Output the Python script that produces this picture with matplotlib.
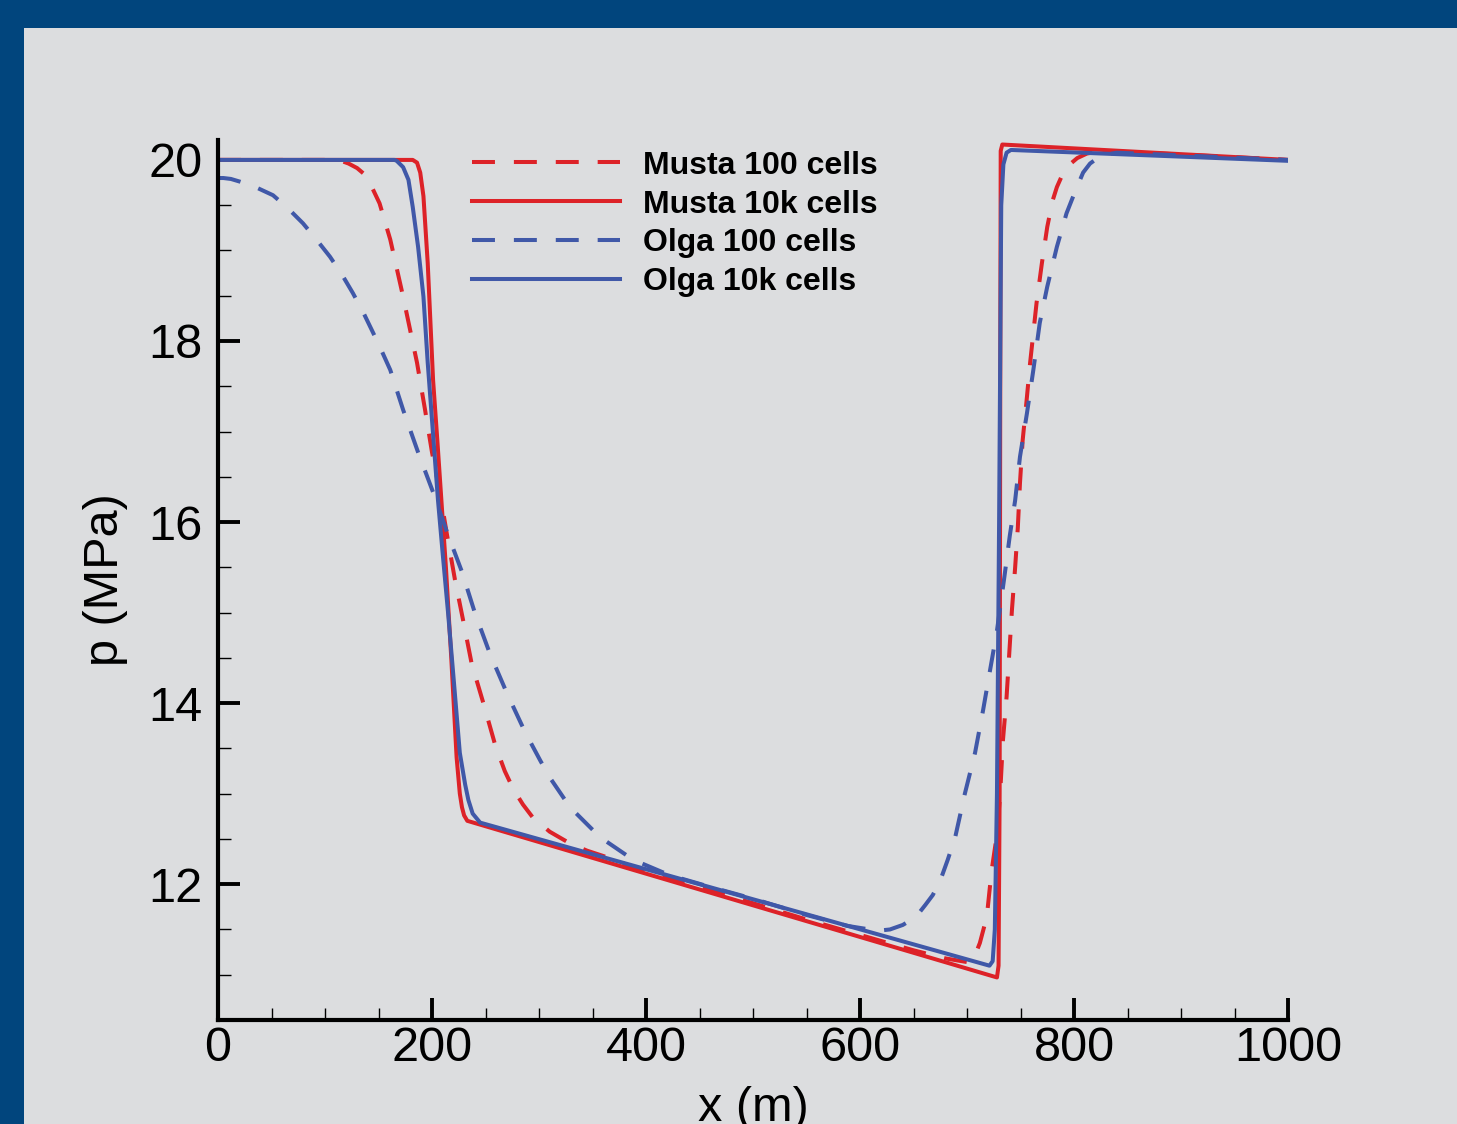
import matplotlib
matplotlib.use("Agg")
import matplotlib.pyplot as plt
from matplotlib.patches import Rectangle
from matplotlib.ticker import MultipleLocator

plt.rcParams['font.family'] = ['Liberation Sans', 'DejaVu Sans']

# ---------------- data ----------------
musta100_x = [0, 100, 115, 122, 130, 136, 143, 151, 161, 173, 186, 193.5, 200, 207.5, 214, 221.5,
              229, 237, 248, 259, 268, 276, 285, 294, 310, 329, 345, 363, 390, 420, 450, 500,
              550, 600, 650, 680, 700, 706, 712, 718.5, 723, 728, 731, 733.6, 737, 742, 745,
              747.5, 749.5, 752, 756, 759, 765, 770, 775, 780, 784, 790, 797, 803, 812, 825,
              900, 1000]
musta100_y = [20, 20, 19.99, 19.96, 19.91, 19.85, 19.72, 19.52, 19.12, 18.49, 17.76, 17.24, 16.77,
              16.32, 15.86, 15.36, 14.92, 14.44, 14.0, 13.54, 13.25, 13.05, 12.88, 12.74, 12.58,
              12.45, 12.37, 12.30, 12.18, 12.07, 11.97, 11.79, 11.61, 11.44, 11.27, 11.18, 11.14,
              11.17, 11.35, 11.64, 12.15, 12.55, 13.0, 13.59, 14.07, 15.03, 15.5, 15.94, 16.43,
              16.9, 17.38, 17.76, 18.42, 18.86, 19.26, 19.55, 19.70, 19.86, 19.96, 20.02, 20.07,
              20.10, 20.06, 20.0]

musta10k_x = [0, 175, 182, 186, 189, 192, 196, 201, 205, 209, 213, 218, 223, 226, 228, 230, 233,
              728, 729.5, 730.5, 731, 731.5, 733, 1000]
musta10k_y = [20, 20, 20.0, 19.97, 19.86, 19.6, 18.86, 17.57, 16.9, 16.2, 15.5, 14.5, 13.4, 13.0,
              12.85, 12.76, 12.70, 10.97, 11.1, 13.0, 17.0, 20.1, 20.17, 20.0]

olga100_x = [0, 5, 12, 20.5, 35, 51.4, 65, 79.4, 92, 104.7, 116, 126, 136, 145, 153, 161, 173, 187,
             201, 214, 228, 240, 254, 270, 287, 301, 310, 329, 357, 388, 422, 460, 500, 550, 588,
             609, 620, 628, 640, 647, 655, 661, 668, 675, 682, 689, 698, 707.5, 715, 721.5, 728,
             735, 740, 745, 749.5, 756, 762, 768, 775, 784, 793, 800, 808.5, 815, 822, 830, 840,
             900, 1000]
olga100_y = [19.8, 19.8, 19.79, 19.76, 19.70, 19.61, 19.47, 19.30, 19.12, 18.93, 18.73, 18.53, 18.31,
             18.09, 17.89, 17.68, 17.24, 16.77, 16.33, 15.89, 15.45, 15.0, 14.55, 14.11, 13.68,
             13.37, 13.18, 12.85, 12.52, 12.27, 12.10, 11.97, 11.84, 11.66, 11.54, 11.50, 11.49,
             11.50, 11.55, 11.60, 11.68, 11.77, 11.88, 12.04, 12.27, 12.52, 13.0, 13.45, 13.92,
             14.36, 14.8, 15.4, 15.85, 16.24, 16.72, 17.2, 17.68, 18.2, 18.6, 19.04, 19.41, 19.62,
             19.86, 19.96, 20.02, 20.06, 20.08, 20.05, 20.0]

olga10k_x = [0, 165, 167, 173, 178, 182, 187, 192, 196, 205.6, 210, 215, 220, 226, 231, 234, 238,
             245, 715, 721, 724, 726, 728, 730, 732, 734, 737, 741, 1000]
olga10k_y = [20, 20, 19.99, 19.92, 19.78, 19.48, 19.04, 18.49, 17.76, 16.24, 15.65, 15.0, 14.3,
             13.45, 13.1, 12.93, 12.78, 12.68, 11.12, 11.10, 11.15, 11.5, 13.0, 16.0, 19.5, 19.95,
             20.08, 20.11, 19.99]

series_labels = ["Musta 100 cells", "Musta 10k cells", "Olga 100 cells", "Olga 10k cells"]
x_ticks = [0, 200, 400, 600, 800, 1000]
y_ticks = [12, 14, 16, 18, 20]

# ---------------- figure ----------------
W, H = 1457, 1124
fig = plt.figure(figsize=(W / 100, H / 100), dpi=100)
fig.patch.set_facecolor('#DCDDDF')
border = '#01457D'
fig.patches.append(Rectangle((0, 1 - 28 / H), 1, 28 / H, transform=fig.transFigure,
                             facecolor=border, edgecolor='none', zorder=0))
fig.patches.append(Rectangle((0, 0), 24 / W, 1, transform=fig.transFigure,
                             facecolor=border, edgecolor='none', zorder=0))

ax = fig.add_axes([218 / W, 1 - 1020 / H, 1070 / W, 880 / H])
ax.set_facecolor('#DCDDDF')

red = '#DD2228'
blue = '#4058A8'
lw = 2.9
dash = (5.7, 4.7)

ax.plot(musta100_x, musta100_y, color=red, lw=lw, dashes=dash, label=series_labels[0])
ax.plot(musta10k_x, musta10k_y, color=red, lw=lw, label=series_labels[1],
        solid_joinstyle='round')
ax.plot(olga100_x, olga100_y, color=blue, lw=lw, dashes=dash, label=series_labels[2])
ax.plot(olga10k_x, olga10k_y, color=blue, lw=lw, label=series_labels[3],
        solid_joinstyle='round')

ax.set_xlim(0, 1000)
ax.set_ylim(10.5, 20.22)
ax.spines['top'].set_visible(False)
ax.spines['right'].set_visible(False)
ax.spines['left'].set_linewidth(3)
ax.spines['bottom'].set_linewidth(3)
ax.spines['bottom'].set_bounds(0, 1000)

ax.set_xticks(x_ticks)
ax.set_yticks(y_ticks)
ax.set_xticklabels([str(v) for v in x_ticks])
ax.set_yticklabels([str(v) for v in y_ticks])
ax.xaxis.set_minor_locator(MultipleLocator(50))
ax.yaxis.set_minor_locator(MultipleLocator(0.5))
ax.tick_params(which='major', direction='in', length=16, width=2.8, labelsize=35)
ax.tick_params(which='minor', direction='in', length=9, width=1.0)
ax.tick_params(axis='x', which='major', pad=4)
ax.tick_params(axis='y', which='major', pad=11)

ax.set_xlabel('x (m)', fontsize=35)
ax.set_ylabel('p (MPa)', fontsize=35)
ax.xaxis.set_label_coords(0.5, -0.075)
ax.yaxis.set_label_coords(-0.084, 0.5)

leg = ax.legend(loc='upper left', bbox_to_anchor=(0.237, 0.988), frameon=False,
                prop={'family': 'Liberation Sans', 'weight': 'bold', 'size': 23},
                handlelength=4.64, handletextpad=0.72, labelspacing=0.28,
                borderpad=0, borderaxespad=0)

fig.savefig('out.png', dpi=100, facecolor=fig.get_facecolor())
